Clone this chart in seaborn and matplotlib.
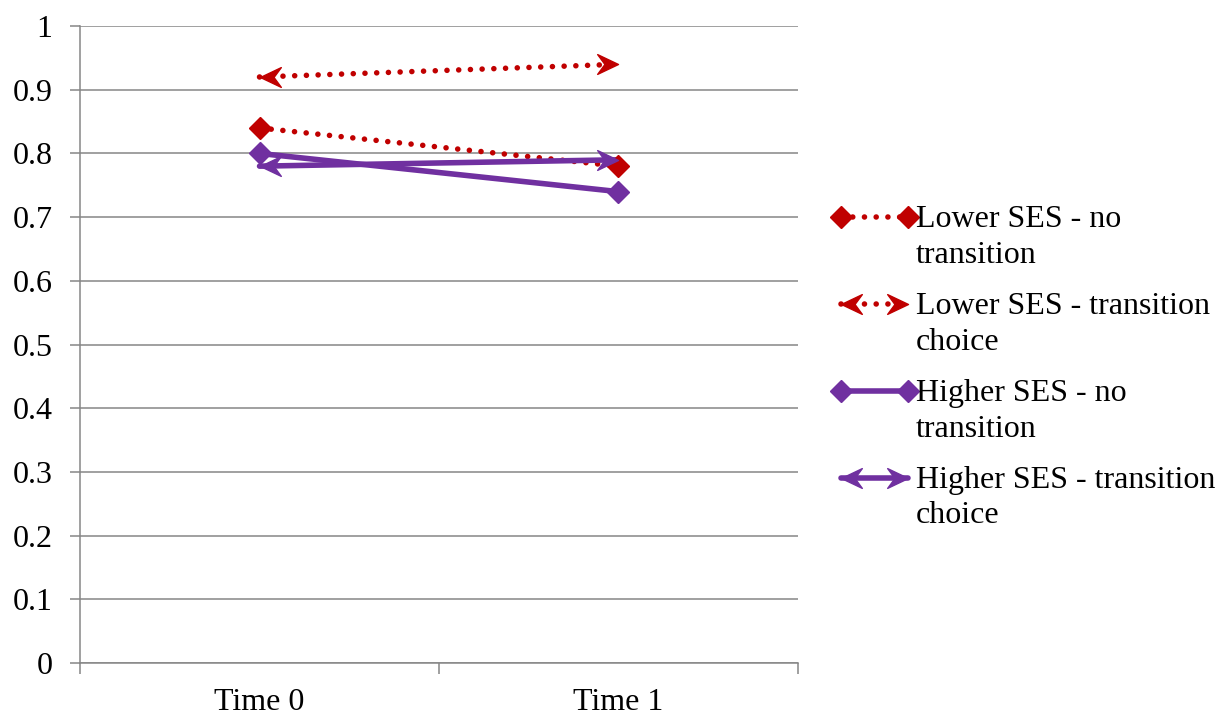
import numpy as np
import pandas as pd
import matplotlib
matplotlib.use("Agg")
import matplotlib.pyplot as plt
import seaborn as sns
from matplotlib.lines import Line2D
from matplotlib.path import Path
from matplotlib.legend_handler import HandlerBase
from matplotlib.transforms import Affine2D

# Data
times = ["Time 0", "Time 1"]
lower_no = [0.84, 0.78]
lower_trans = [0.92, 0.94]
higher_no = [0.80, 0.74]
higher_trans = [0.78, 0.79]
labels = ["Lower SES - no\ntransition",
          "Lower SES - transition\nchoice",
          "Higher SES - no\ntransition",
          "Higher SES - transition\nchoice"]
y_ticks = [0, 0.1, 0.2, 0.3, 0.4, 0.5, 0.6, 0.7, 0.8, 0.9, 1]
y_labels = ["0", "0.1", "0.2", "0.3", "0.4", "0.5", "0.6", "0.7", "0.8", "0.9", "1"]

RED = "#C00000"
PURPLE = "#7030A0"
GRID = "#868686"
DOTS = (0, (0.01, 2.1))
FS = 23


def arrowhead(direction):
    """Stealth arrowhead with its tip at the origin."""
    pts = [(0, 0), (-2, 0.95), (-1.3, 0), (-2, -0.95), (0, 0)]
    pts = [(direction * x, y) for x, y in pts]
    codes = [Path.MOVETO, Path.LINETO, Path.LINETO, Path.LINETO, Path.CLOSEPOLY]
    return Path(pts, codes)


LEFT = arrowhead(-1)
RIGHT = arrowhead(1)
ARROW_MS = 30
DIAMOND_MS = 11


class RaisedHandle(HandlerBase):
    """Line handle with end markers, aligned with first line of the label."""
    def __init__(self, m0, m1, ms):
        super().__init__()
        self.m0, self.m1, self.ms = m0, m1, ms

    def create_artists(self, legend, orig_handle, xdescent, ydescent,
                       width, height, fontsize, trans):
        dy = 0.62 * fontsize * legend.figure.dpi / 72
        trans = trans + Affine2D().translate(0, dy)
        y = (height - ydescent) / 2
        x0, x1 = -xdescent + 0.25 * fontsize, -xdescent + width - 0.1 * fontsize
        line = Line2D([x0, x1], [y, y])
        line.update_from(orig_handle)
        line.set_marker("None")
        color = orig_handle.get_color()
        a = Line2D([x0], [y], marker=self.m0, markersize=self.ms, color=color,
                   linestyle="none")
        b = Line2D([x1], [y], marker=self.m1, markersize=self.ms, color=color,
                   linestyle="none")
        for art in (line, a, b):
            art.set_transform(trans)
        return [line, a, b]


sns.set_style("white")
plt.rcParams["font.family"] = ["Liberation Serif", "DejaVu Serif"]
plt.rcParams["text.color"] = "black"

fig = plt.figure(figsize=(12.22, 7.17), dpi=100)
ax = fig.add_axes([0.0655, 0.0753, 0.5875, 0.8884])

series = [
    (lower_no, RED, DOTS, 4.0, "D", "D"),
    (lower_trans, RED, DOTS, 4.0, LEFT, RIGHT),
    (higher_no, PURPLE, "-", 4.0, "D", "D"),
    (higher_trans, PURPLE, "-", 4.0, LEFT, RIGHT),
]

handles = []
for vals, color, ls, lw, m0, m1 in series:
    sns.lineplot(x=times, y=vals, ax=ax, color=color, linestyle=ls,
                 linewidth=lw, dash_capstyle="round", legend=False, zorder=3)
    ms = DIAMOND_MS if m0 == "D" else ARROW_MS
    ax.plot(times[:1], vals[:1], marker=m0, markersize=ms, color=color,
            linestyle="none", zorder=4)
    ax.plot(times[1:], vals[1:], marker=m1, markersize=ms, color=color,
            linestyle="none", zorder=4)
    handles.append((Line2D([], [], color=color, linestyle=ls, linewidth=lw,
                           dash_capstyle="round"), m0, m1, ms))

# axes styling
ax.set_xlim(-0.5, 1.5)
ax.set_ylim(0, 1)
ax.set_yticks(y_ticks)
ax.set_yticklabels(y_labels)
ax.set_xticks([0, 1])
ax.set_xticklabels(times)
ax.set_xticks([-0.5, 0.5, 1.5], minor=True)
ax.tick_params(axis="x", which="major", length=0, labelsize=FS, pad=18,
               labelcolor="black")
ax.tick_params(axis="x", which="minor", length=8, width=1.1, color=GRID,
               direction="out", bottom=True)
ax.tick_params(axis="y", length=7, width=1.1, color=GRID, direction="out",
               left=True, labelsize=FS, pad=13, labelcolor="black")
ax.set_xlabel("")
ax.set_ylabel("")
ax.grid(axis="y", color=GRID, linewidth=1.1, zorder=0)
ax.grid(axis="x", visible=False)
ax.set_axisbelow(True)
for side in ["top", "right"]:
    ax.spines[side].set_visible(False)
for side in ["left", "bottom"]:
    ax.spines[side].set_color(GRID)
    ax.spines[side].set_linewidth(1.1)

# legend
hmap = {h: RaisedHandle(m0, m1, ms) for h, m0, m1, ms in handles}
leg = fig.legend([h for h, *_ in handles], labels,
                 loc="upper left", bbox_to_anchor=(833 / 1222, 1 - 205 / 717),
                 frameon=False, fontsize=FS, handlelength=2.45,
                 handletextpad=0.15, labelspacing=0.7, borderpad=0,
                 borderaxespad=0, handler_map=hmap)
for t in leg.get_texts():
    t.set_linespacing(1.3)
    t.set_color("black")

fig.savefig("out.png", dpi=100)
